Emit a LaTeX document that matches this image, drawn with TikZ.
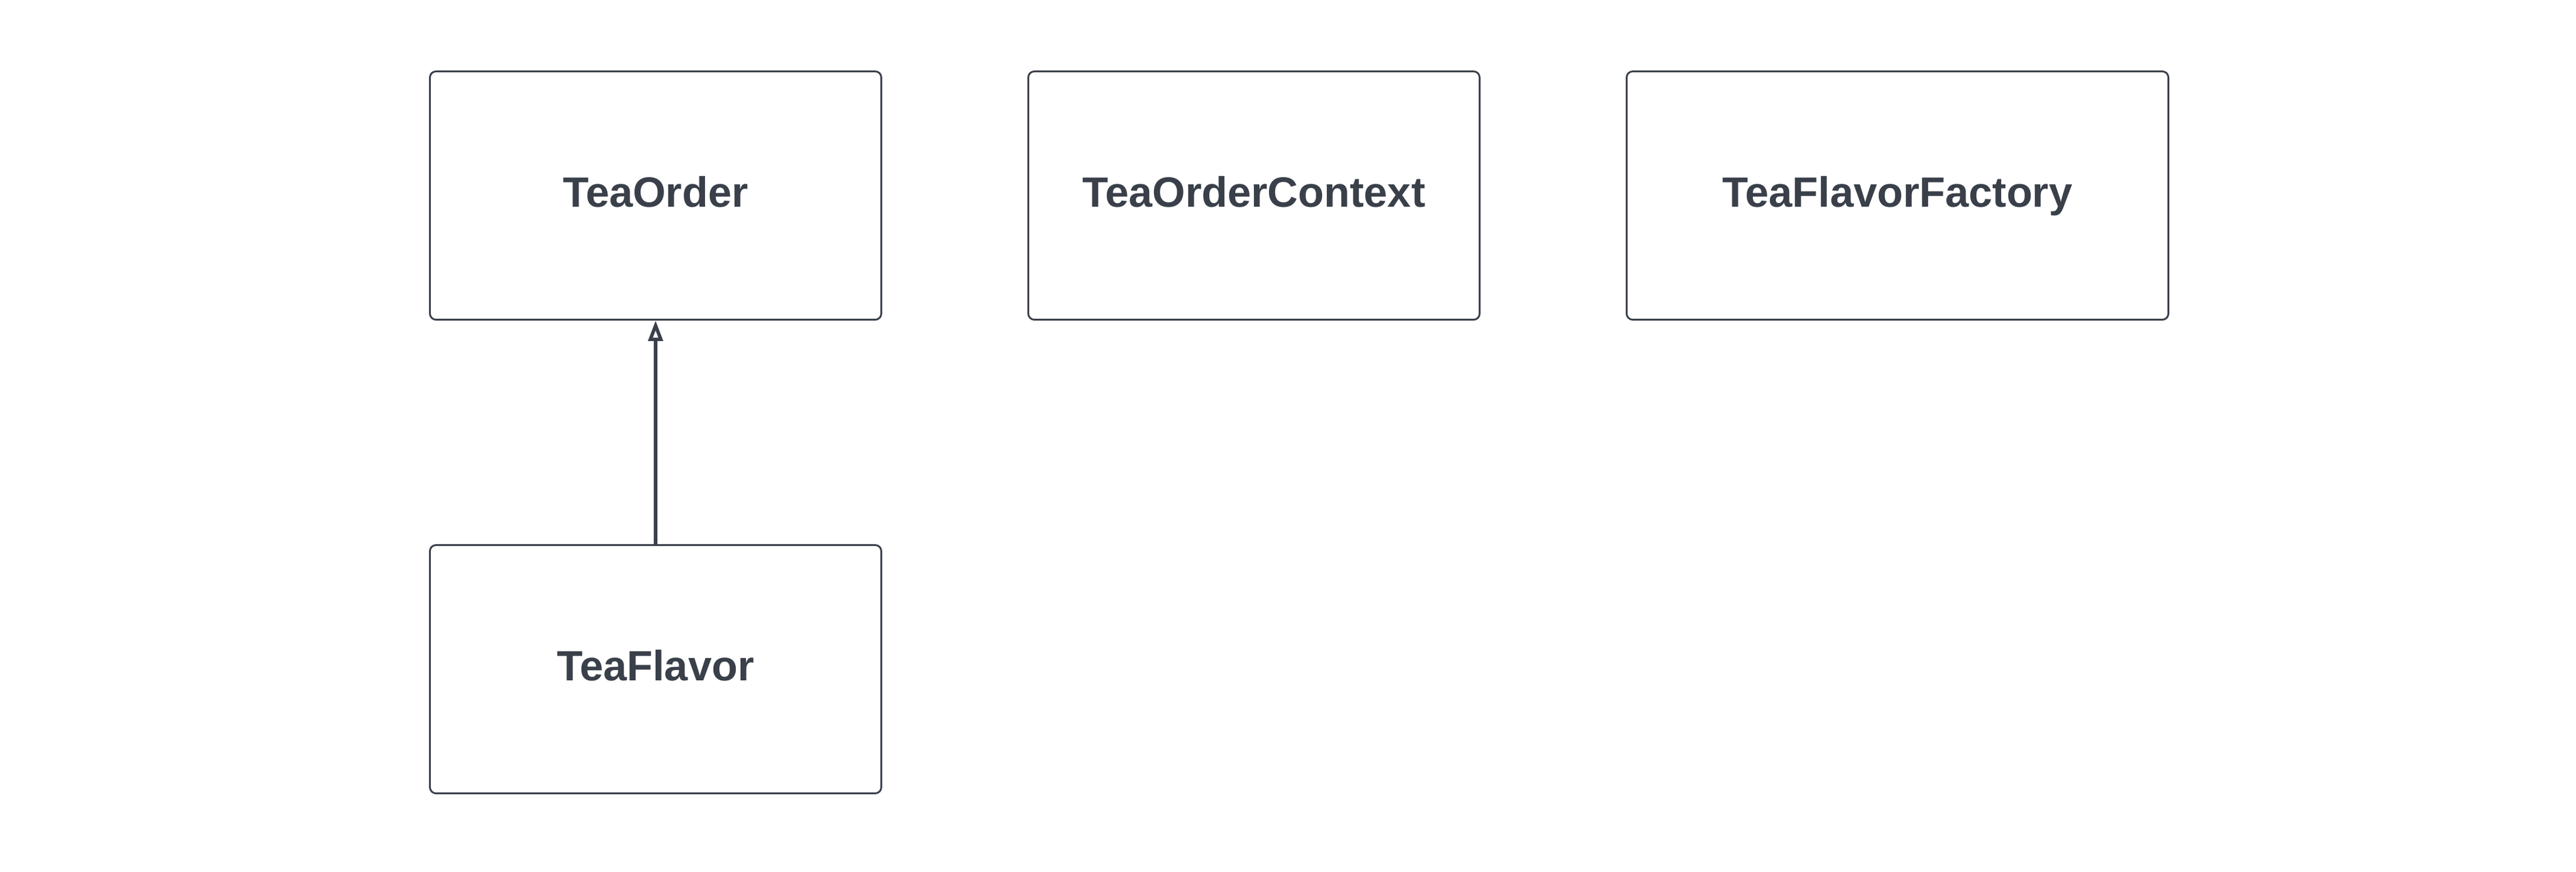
\documentclass[tikz,border=0pt]{standalone}
\usepackage{fontspec}
\setmainfont{Liberation Sans}
\usetikzlibrary{positioning, arrows.meta}
\definecolor{slate}{RGB}{58,64,74}

\begin{document}
\begin{tikzpicture}[>={Triangle[open, length=0.34cm, width=0.24cm, fill=white]}, node distance=2.41cm, semithick]
    \tikzset{cls/.style={draw=slate, line width=0.85pt, rounded corners=0.1cm, minimum width=7.49cm, minimum height=4.12cm, inner sep=0pt, text depth=3.5pt, text=slate, font=\fontsize{20}{24}\selectfont\bfseries}}
    \useasboundingbox (0,0) rectangle (42.75,14.46);
    \node[cls, anchor=north west] (order) at (7.12,13.29) {TeaOrder};
    \node[cls] (context) [right=of order] {TeaOrderContext};
    \node[cls, minimum width=8.99cm] (factory) [right=of context] {TeaFlavorFactory};
    \node[cls] (flavor) [below=3.71cm of order] {TeaFlavor};
    
    \path[->]
    (flavor) edge[draw=slate, line width=1.6pt] (order);
\end{tikzpicture}
\end{document}
